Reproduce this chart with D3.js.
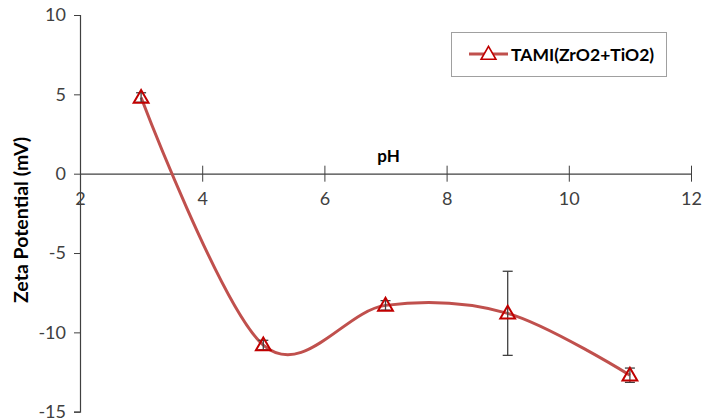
<!DOCTYPE html>
<html>
<head>
<meta charset="utf-8">
<script src="https://cdn.jsdelivr.net/npm/d3@7"></script>
<style>
  body { margin: 0; background: #fff; }
  svg text { font-family: Lato, "Open Sans", sans-serif; }
</style>
</head>
<body>
<div id="chart"></div>
<script>
// data
const phValues = [3, 5, 7, 9, 11];
const zetaValues = [4.8, -10.8, -8.3, -8.8, -12.7];
const zetaErrors = [0.3, 0.3, 0.3, 2.65, 0.45];
const xTicks = [2, 4, 6, 8, 10, 12];
const yTicks = [-15, -10, -5, 0, 5, 10];
const seriesName = "TAMI(ZrO2+TiO2)";

const width = 702,
      height = 420;

const svg = d3.select("#chart")
              .append("svg")
              .attr("width", width)
              .attr("height", height);

const x = d3.scaleLinear().domain([2, 12]).range([80, 691]);
const y = d3.scaleLinear().domain([-15, 10]).range([411.7, 15]);

const axisColor = "#404040";
const plain = d => String(d); // hyphen minus like the original

// y axis
const yAxis = svg.append("g")
  .attr("transform", `translate(${x(2)},0)`)
  .call(d3.axisLeft(y).tickValues(yTicks).tickFormat(plain).tickSize(6).tickPadding(8));
yAxis.select(".domain").attr("stroke", axisColor).attr("stroke-width", 1.2);
yAxis.selectAll(".tick line").attr("stroke", axisColor);
yAxis.selectAll(".tick text")
  .attr("fill", axisColor)
  .style("font-size", "18px")
  .style("font-family", "Lato, sans-serif");

// x axis crossing at zero
const xAxis = svg.append("g")
  .attr("transform", `translate(0,${y(0)})`)
  .call(d3.axisBottom(x).tickValues(xTicks).tickFormat(plain).tickSize(8).tickPadding(11).tickSizeOuter(0));
xAxis.select(".domain").attr("stroke", axisColor).attr("stroke-width", 1.2);
xAxis.selectAll(".tick line").attr("stroke", axisColor).attr("y1", -8).attr("y2", 8);
xAxis.selectAll(".tick text")
  .attr("fill", axisColor)
  .style("font-size", "18px")
  .style("font-family", "Lato, sans-serif");

// axis titles
svg.append("text")
  .attr("x", x(7.05))
  .attr("y", y(0) - 12)
  .attr("text-anchor", "middle")
  .style("font-size", "17px")
  .style("font-weight", "bold")
  .attr("fill", "#000")
  .text("pH");

svg.append("text")
  .attr("transform", `translate(28,${220}) rotate(-90)`)
  .attr("text-anchor", "middle")
  .style("font-size", "19.5px")
  .style("font-weight", "bold")
  .attr("fill", "#000")
  .text("Zeta Potential (mV)");

const points = phValues.map((p, i) => ({ ph: p, z: zetaValues[i], e: zetaErrors[i] }));

// smoothed line
const line = d3.line()
  .x(d => x(d.ph))
  .y(d => y(d.z))
  .curve(d3.curveCardinal.tension(0));

svg.append("path")
  .datum(points)
  .attr("d", line)
  .attr("fill", "none")
  .attr("stroke", "#C0504D")
  .attr("stroke-width", 3);

// error bars
const eb = svg.append("g").attr("stroke", "#404040").attr("stroke-width", 1.3);
points.forEach(d => {
  eb.append("line")
    .attr("x1", x(d.ph)).attr("x2", x(d.ph))
    .attr("y1", y(d.z + d.e)).attr("y2", y(d.z - d.e));
  [d.z + d.e, d.z - d.e].forEach(v => {
    eb.append("line")
      .attr("x1", x(d.ph) - 5).attr("x2", x(d.ph) + 5)
      .attr("y1", y(v)).attr("y2", y(v));
  });
});

// triangle markers
const tri = d3.symbol().type(d3.symbolTriangle).size(95);
svg.append("g")
  .selectAll("path")
  .data(points)
  .join("path")
    .attr("d", tri)
    .attr("transform", d => `translate(${x(d.ph)},${y(d.z) + 1})`)
    .attr("fill", "none")
    .attr("stroke", "#C00000")
    .attr("stroke-width", 2);

// legend
const legend = svg.append("g");
legend.append("rect")
  .attr("x", 451.5).attr("y", 32.5)
  .attr("width", 215).attr("height", 44)
  .attr("fill", "#fff")
  .attr("stroke", "#A0A0A0");
legend.append("line")
  .attr("x1", 469).attr("x2", 508)
  .attr("y1", 54).attr("y2", 54)
  .attr("stroke", "#C0504D").attr("stroke-width", 3);
legend.append("path")
  .attr("d", tri)
  .attr("transform", "translate(488.5,55)")
  .attr("fill", "#fff")
  .attr("stroke", "#C00000")
  .attr("stroke-width", 1.6);
legend.append("text")
  .attr("x", 511)
  .attr("y", 61)
  .style("font-size", "17.5px")
  .style("font-weight", "bold")
  .attr("fill", "#000")
  .text(seriesName);
</script>
</body>
</html>
